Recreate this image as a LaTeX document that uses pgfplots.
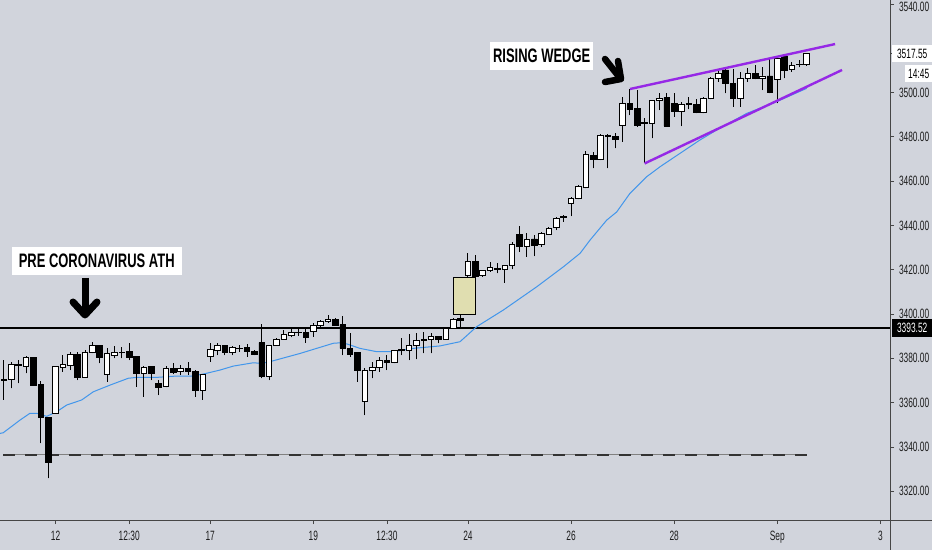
\documentclass[border=0pt]{standalone}
\usepackage{fontspec}
\setmainfont{Liberation Sans}
\newfontfamily\tickfont{Liberation Sans}[FakeStretch=0.62]
\newfontfamily\boxfont{Liberation Sans Bold}[FakeStretch=0.665]
\usepackage{pgfplots}
\pgfplotsset{compat=1.18}
\usepackage{pgfplotstable}
\usetikzlibrary{arrows.meta}

\definecolor{bg}{RGB}{209,212,220}
\definecolor{maBlue}{RGB}{66,150,235}
\definecolor{wedge}{RGB}{150,40,230}
\definecolor{gapbox}{RGB}{224,222,176}
\definecolor{axcol}{RGB}{70,70,70}
\definecolor{tickcol}{RGB}{30,30,30}

\pgfplotstableread{
i o h l c
0 3370.5 3379.2 3361.2 3369.9
1 3370.5 3378.5 3366.4 3377.3
2 3377.4 3379.2 3368.7 3376.7
3 3376.5 3381.0 3373.2 3380.4
4 3380.3 3380.5 3367.8 3367.9
5 3368.4 3369.8 3341.6 3353.3
6 3353.3 3353.6 3325.8 3333.0
7 3355.2 3376.5 3355.1 3376.2
8 3375.9 3381.5 3374.0 3377.3
9 3377.0 3383.0 3374.7 3381.8
10 3381.8 3383.0 3370.2 3371.3
11 3371.4 3383.8 3371.3 3382.7
12 3382.5 3387.2 3382.4 3385.7
13 3385.7 3386.0 3377.7 3380.3
14 3372.9 3384.5 3369.5 3382.2
15 3381.5 3385.6 3380.0 3382.7
16 3382.7 3385.3 3380.0 3382.8
17 3383.3 3387.1 3379.2 3380.4
18 3380.7 3381.0 3367.2 3373.2
19 3373.2 3376.5 3362.7 3375.8
20 3376.2 3376.5 3370.2 3373.2
21 3368.7 3370.2 3363.4 3366.9
22 3367.2 3376.7 3366.9 3375.5
23 3375.5 3377.7 3372.9 3373.7
24 3374.0 3377.0 3372.5 3375.5
25 3375.6 3378.5 3372.5 3374.1
26 3374.1 3374.7 3362.7 3365.7
27 3365.4 3372.9 3361.2 3372.6
28 3380.7 3386.8 3378.5 3383.8
29 3383.4 3387.1 3381.5 3385.6
30 3385.7 3386.0 3381.5 3382.5
31 3382.5 3385.6 3381.5 3384.9
32 3384.6 3386.0 3383.0 3384.4
33 3385.0 3386.3 3380.7 3383.0
34 3383.3 3383.8 3381.5 3381.8
35 3387.1 3395.5 3371.0 3371.7
36 3372.0 3386.0 3370.2 3385.7
37 3385.7 3389.0 3385.6 3388.5
38 3388.7 3392.8 3388.6 3390.8
39 3390.5 3393.1 3389.5 3391.6
40 3391.7 3394.3 3390.1 3391.8
41 3391.6 3394.3 3387.1 3389.5
42 3392.3 3395.8 3389.8 3394.7
43 3394.7 3397.3 3394.3 3396.5
44 3396.5 3399.5 3396.1 3397.7
45 3397.6 3398.0 3394.6 3394.7
46 3395.3 3399.1 3381.5 3384.5
47 3384.5 3391.6 3380.7 3381.9
48 3382.5 3382.6 3369.5 3374.7
49 3360.4 3375.5 3354.4 3374.7
50 3374.4 3378.5 3371.0 3375.8
51 3375.8 3380.7 3374.0 3378.9
52 3379.2 3381.5 3374.7 3378.0
53 3378.0 3383.8 3377.7 3383.5
54 3383.8 3389.0 3381.5 3383.7
55 3383.5 3391.0 3379.2 3385.6
56 3385.6 3391.3 3379.5 3388.0
57 3388.2 3392.0 3382.2 3388.3
58 3388.6 3391.3 3382.2 3389.8
59 3389.8 3390.1 3386.8 3388.6
60 3388.7 3393.8 3388.3 3393.5
61 3393.5 3398.0 3393.4 3397.7
62 3397.9 3399.5 3394.0 3397.1
63 3417.6 3427.7 3416.6 3423.6
64 3423.6 3426.6 3416.6 3416.9
65 3417.2 3419.9 3416.9 3419.6
66 3419.9 3423.6 3419.1 3420.9
67 3420.3 3422.9 3418.4 3420.4
68 3420.3 3422.1 3414.1 3421.8
69 3421.8 3432.7 3420.2 3431.6
70 3436.1 3439.7 3428.1 3430.4
71 3430.4 3436.7 3425.9 3433.7
72 3433.9 3435.7 3426.2 3430.9
73 3431.5 3437.2 3430.4 3436.4
74 3436.1 3439.4 3435.7 3438.8
75 3439.0 3443.9 3437.9 3443.2
76 3443.6 3444.7 3441.7 3444.2
77 3450.0 3452.7 3444.2 3452.2
78 3452.2 3458.2 3451.8 3457.8
79 3457.2 3473.6 3456.7 3472.2
80 3471.8 3473.3 3465.8 3469.8
81 3469.8 3481.3 3469.5 3480.8
82 3480.8 3481.3 3465.8 3480.1
83 3480.1 3481.6 3474.8 3478.9
84 3485.3 3498.1 3477.8 3495.1
85 3495.1 3501.4 3489.8 3492.6
86 3492.9 3501.1 3484.6 3485.3
87 3486.4 3488.3 3468.0 3486.1
88 3486.1 3496.6 3479.3 3496.3
89 3496.3 3499.6 3492.1 3497.4
90 3497.7 3499.6 3484.6 3484.9
91 3495.1 3499.6 3489.1 3491.4
92 3491.4 3495.9 3484.9 3494.8
93 3494.7 3498.1 3492.4 3494.9
94 3494.8 3496.9 3490.6 3490.9
95 3490.9 3497.8 3490.6 3497.4
96 3497.4 3507.2 3496.9 3506.4
97 3506.4 3510.2 3504.9 3508.7
98 3510.2 3510.9 3499.6 3504.1
99 3504.1 3510.5 3493.6 3497.4
100 3497.4 3509.4 3493.6 3506.4
101 3506.4 3510.9 3504.9 3508.7
102 3508.7 3512.4 3505.9 3506.4
103 3506.4 3511.4 3501.1 3507.5
104 3507.5 3515.4 3499.6 3499.9
105 3505.9 3516.2 3495.1 3515.4
106 3516.2 3516.5 3506.4 3510.2
107 3510.5 3513.9 3509.4 3512.4
108 3512.7 3514.7 3511.4 3512.9
109 3512.9 3518.0 3512.0 3517.55
}\candles

\pgfplotsset{
  common/.style={scale only axis, width=890bp, height=520bp,
    xmin=-0.543, xmax=120.31, ymin=3307.0, ymax=3541.8},
}

\begin{document}
\begin{tikzpicture}
\fill[bg] (0,-30bp) rectangle (932bp,520bp);
\path[use as bounding box] (0,-30bp) rectangle (932bp,520bp);

\begin{axis}[common,
  axis line style={draw=none},
  tick align=outside, major tick length=4bp,
  tick style={axcol, line width=0.8bp},
  xtick={7,17,28,42,52,63,77,91,105,119},
  xticklabels={12,12:30,17,19,12:30,24,26,28,Sep,3},
  xtick pos=left, xticklabel pos=left,
  ytick={3320,3340,3360,3380,3400,3420,3440,3460,3480,3500},
  extra y ticks={3540},
  extra y tick style={yticklabel style={yshift=-2.5bp}},
  ytick pos=right, yticklabel pos=right,
  /pgf/number format/assume math mode=true,
  yticklabel={\pgfmathprintnumber[fixed,fixed zerofill,precision=2,1000 sep={}]{\tick}},
  ticklabel style={font=\tickfont\fontsize{13.5bp}{13.5bp}\selectfont, text=tickcol},
  xticklabel style={yshift=-4bp},
  yticklabel style={xshift=1.5bp},
]
% gap highlight box
\addplot[fill=gapbox, draw=black, line width=0.8bp, forget plot]
  coordinates {(61,3399.9) (64,3399.9) (64,3416.6) (61,3416.6) (61,3399.9)};
% dashed support line
\addplot[gray, line width=1bp, forget plot] coordinates {(-0.1,3336.5) (109,3336.5)};
\addplot[black!80, line width=1.7bp, dash pattern=on 12bp off 10bp, forget plot]
  coordinates {(-0.1,3336.5) (109,3336.5)};
% pre-coronavirus ATH level
\addplot[black, line width=2bp, forget plot] coordinates {(-1,3393.52) (121,3393.52)};
% moving average
\addplot[maBlue, line width=1bp, forget plot] coordinates {
(-0.54,3346.1) (-0.1,3346.4) (2.17,3352.1) (3.53,3355.2) (4.44,3355.2) (5.8,3353.8)
(7.16,3355.9) (8.51,3358.9) (10.55,3361.2) (12.13,3364.9) (14.39,3367.9) (16.88,3371.0)
(18.02,3371.4) (20.74,3371.4) (23.45,3372.0) (25.49,3372.0) (27.06,3372.9) (29.33,3374.7)
(31.14,3376.5) (33.85,3378.0) (34.99,3377.7) (36.12,3378.5) (40.2,3382.2) (44.72,3386.8)
(45.63,3387.0) (46.54,3386.5) (48.34,3384.5) (50.6,3383.0) (52.87,3383.0) (55.58,3384.5)
(59.21,3385.6) (61.92,3387.5) (64.19,3394.3) (67.8,3401.8) (72.34,3412.3) (75.95,3421.3)
(78.22,3427.4) (79.58,3433.4) (81.84,3442.4) (83.2,3446.1) (85.0,3454.5) (87.27,3462.0)
(89.08,3466.5) (94.51,3478.6) (96.78,3483.1) (100.85,3490.6) (104.93,3495.9) (109.0,3501.9)};
% wicks
\addplot[only marks, mark=*, mark size=0pt, mark options={draw=none, fill=none}, forget plot,
  error bars/.cd, y dir=plus, y explicit, error mark=none,
  error bar style={line width=1bp, draw=black, solid}]
  table[x=i, y=l, y error expr={\thisrow{h}-\thisrow{l}}] {\candles};
\end{axis}

\begin{axis}[common, hide axis, ybar stacked, bar width=5.6bp]
\addplot[draw=none, fill=none] table[x=i, y expr={min(\thisrow{o},\thisrow{c})}] {\candles};
\addplot[fill=white, draw=black, line width=0.9bp] table[x=i, y expr={max(\thisrow{c}-\thisrow{o},0)}] {\candles};
\addplot[fill=black, draw=black, line width=0.9bp] table[x=i, y expr={max(\thisrow{o}-\thisrow{c},0)}] {\candles};
\end{axis}

\begin{axis}[common, hide axis]
\addplot[wedge, line width=2.4bp] coordinates {(85,3501.6) (112.85,3521.9)};
\addplot[wedge, line width=2.4bp] coordinates {(87,3468.0) (113.8,3510.2)};
\end{axis}

% axis lines
\draw[axcol, line width=0.9bp] (0,0) -- (932bp,0);
\draw[axcol, line width=0.9bp] (890bp,-30bp) -- (890bp,520bp);

% price labels on the right
\draw[axcol, line width=0.8bp] (890bp,466.4bp) -- (894bp,466.4bp);
\node[fill=white, inner sep=0pt, minimum width=40bp, minimum height=17bp, anchor=west,
  font=\tickfont\fontsize{13.5bp}{13.5bp}\selectfont] at (892bp,466.4bp) {3517.55};
\node[fill=white, inner sep=0pt, minimum width=27bp, minimum height=17bp, anchor=west,
  font=\tickfont\fontsize{13.5bp}{13.5bp}\selectfont] at (905bp,446.5bp) {14:45};
\node[fill=black, text=white, inner sep=0pt, minimum width=40bp, minimum height=18bp, anchor=west,
  font=\tickfont\fontsize{13.5bp}{13.5bp}\selectfont] at (892bp,192bp) {3393.52};

% annotation boxes
\node[fill=white, inner sep=0pt, minimum width=170bp, minimum height=28.3bp,
  font=\boxfont\fontsize{19.5bp}{19.5bp}\selectfont] at (96.7bp,259.2bp) {PRE CORONAVIRUS ATH};
\node[fill=white, inner sep=0pt, minimum width=103.3bp, minimum height=28.3bp,
  font=\boxfont\fontsize{19.5bp}{19.5bp}\selectfont] at (541.7bp,464.2bp) {RISING WEDGE};

% arrows
\draw[black, line width=7bp] (85bp,242bp) -- (85bp,208bp);
\draw[black, line width=7bp, line join=round, line cap=round] (73bp,218bp) -- (85bp,205bp) -- (97bp,218bp);
\draw[black, line width=6.5bp, line cap=round] (605bp,461bp) -- (620bp,442bp);
\draw[black, line width=6.5bp, line join=round, line cap=round] (618bp,459bp) -- (621bp,441bp) -- (605bp,438bp);
\end{tikzpicture}
\end{document}
